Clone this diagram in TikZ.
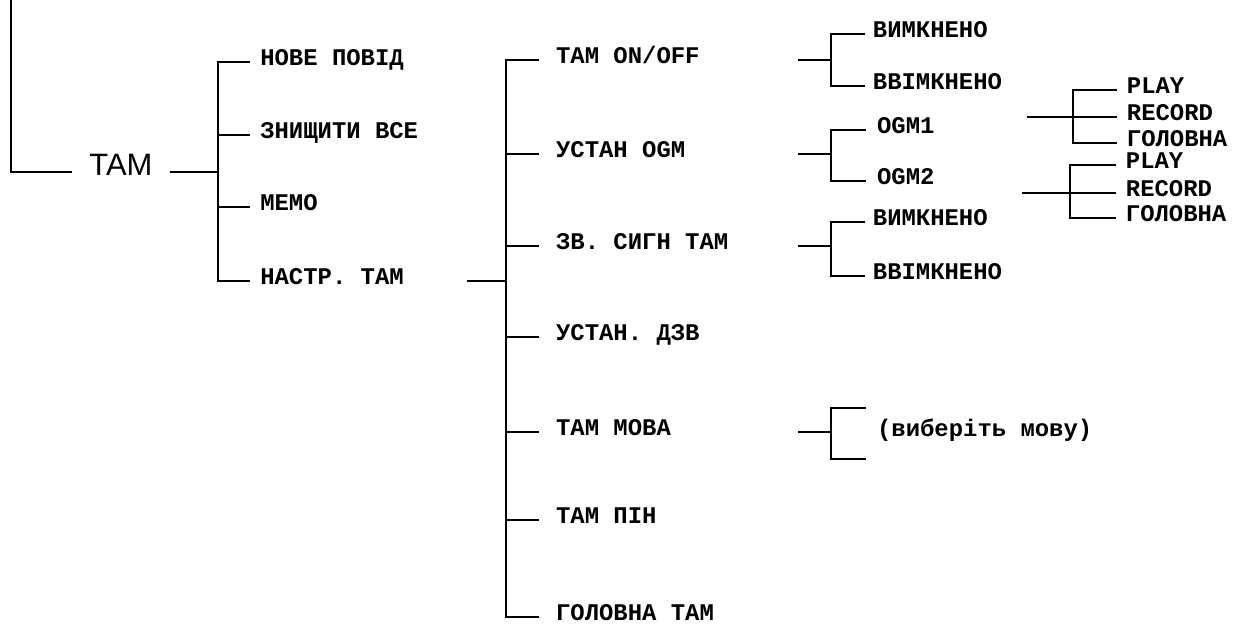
\documentclass[tikz,border=0pt]{standalone}
\usepackage{fontspec}
\setmainfont{Liberation Sans}
\setmonofont{Liberation Mono}
\begin{document}
\begin{tikzpicture}[x=0.025cm, y=-0.025cm, line width=1pt,
        menu/.style={font=\ttfamily\bfseries\fontsize{17}{20}\selectfont, anchor=west, inner ysep=0pt, text height=0.63em, text depth=0.2em},
        wide/.style={execute at begin node={\hbox to #1\bgroup}, execute at end node={\hfil\egroup}},
        lvlA/.style={menu, inner xsep=0.24cm, wide=4.9cm},
        lvlB/.style={menu, inner xsep=0.41cm, wide=5.63cm},
        leaf/.style={menu, inner xsep=#1}, leaf/.default=0.2cm,
        root/.style={font=\fontsize{22}{26}\selectfont, minimum width=2.4cm, inner sep=0pt, text height=0.716em, text depth=0.25em}]
        \useasboundingbox (0,0) rectangle (1246,628);

        % Wurzel
        \coordinate (top) at (11,0);
        \node[root] (tam) at (121,172) {TAM};
        \draw (top) |- (tam);

        % Ebene 1
        \coordinate (busA) at (218,172);
        \node[lvlA] (nove) at (250,62) {НОВЕ ПОВІД};
        \node[lvlA] (znysh) at (250,135) {ЗНИЩИТИ ВСЕ};
        \node[lvlA] (memo) at (250,207) {МЕМО};
        \node[lvlA] (nastr) at (250,281) {НАСТР. ТАМ};
        \draw (tam) -- (busA);
        \draw (nove.west) -| (busA) |- (nastr.west);
        \foreach \n in {znysh,memo} \draw (busA |- \n.west) -- (\n.west);

        % Ebene 2
        \coordinate (busB) at (506,281);
        \node[lvlB] (onoff) at (539,60) {ТАМ ON/OFF};
        \node[lvlB] (ogm) at (539,154) {УСТАН OGM};
        \node[lvlB] (sign) at (539,246) {ЗВ. СИГН ТАМ};
        \node[lvlB] (dzv) at (539,337) {УСТАН. ДЗВ};
        \node[lvlB] (mova) at (539,432) {ТАМ МОВА};
        \node[lvlB] (pin) at (539,520) {ТАМ ПІН};
        \node[lvlB] (golt) at (539,617) {ГОЛОВНА ТАМ};
        \draw (nastr) -- (busB);
        \draw (onoff.west) -| (busB) |- (golt.west);
        \foreach \n in {ogm,sign,dzv,mova,pin} \draw (busB |- \n.west) -- (\n.west);

        % Ebene 3
        \coordinate (brA) at (831,60);
        \coordinate (brB) at (831,154);
        \coordinate (brC) at (831,246);
        \node[leaf=0.18cm] (offA) at (865,34) {ВИМКНЕНО};
        \node[leaf=0.18cm] (onA) at (865,86) {ВВІМКНЕНО};
        \node[leaf=0.26cm] (ogmA) at (866,130) {OGM1};
        \node[leaf=0.26cm] (ogmB) at (866,181) {OGM2};
        \node[leaf=0.18cm] (offB) at (865,222) {ВИМКНЕНО};
        \node[leaf=0.18cm] (onB) at (865,276) {ВВІМКНЕНО};
        \draw (onoff) -- (brA);
        \draw (ogm) -- (brB);
        \draw (sign) -- (brC);
        \draw (offA.west) -| (brA) |- (onA.west);
        \draw (ogmA.west) -| (brB) |- (ogmB.west);
        \draw (offB.west) -| (brC) |- (onB.west);

        % Sprache
        \coordinate (brD) at (831,432);
        \coordinate (lnA) at (866,408);
        \coordinate (lnB) at (866,459);
        \draw (mova) -- (brD);
        \draw (lnA) -| (brD) |- (lnB);
        \node[leaf=0.26cm] (lang) at (866,433) {(виберіть мову)};

        % OGM1
        \coordinate (inA) at (1027,117);
        \coordinate (busC) at (1073,117);
        \node[leaf=0.23cm] (playA) at (1117,90) {PLAY};
        \node[leaf=0.23cm] (recA) at (1117,117) {RECORD};
        \node[leaf=0.23cm] (golA) at (1117,143) {ГОЛОВНА};
        \draw (inA) -- (recA.west);
        \draw (playA.west) -| (busC) |- (golA.west);

        % OGM2
        \coordinate (inB) at (1022,193);
        \coordinate (busD) at (1070,193);
        \node[leaf=0.23cm] (playB) at (1116,165) {PLAY};
        \node[leaf=0.23cm] (recB) at (1116,193) {RECORD};
        \node[leaf=0.23cm] (golB) at (1116,218) {ГОЛОВНА};
        \draw (inB) -- (recB.west);
        \draw (playB.west) -| (busD) |- (golB.west);
\end{tikzpicture}
\end{document}
